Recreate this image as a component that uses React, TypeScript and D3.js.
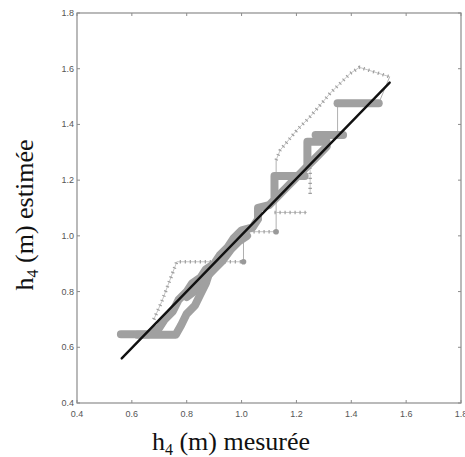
import React from "react";
import * as d3 from "d3";

const W = 465;
const H = 457;

const xTicks = [0.4, 0.6, 0.8, 1.0, 1.2, 1.4, 1.6, 1.8];
const yTicks = [0.4, 0.6, 0.8, 1.0, 1.2, 1.4, 1.6, 1.8];

// thick gray bands of densely packed circle markers (estimated)
const bandMain: [number, number][] = [
  [0.56, 0.647], [0.66, 0.647], [0.7, 0.67], [0.72, 0.7], [0.75, 0.73], [0.77, 0.77],
  [0.8, 0.8], [0.82, 0.83], [0.85, 0.85], [0.87, 0.88], [0.9, 0.9], [0.92, 0.93],
  [0.95, 0.96], [0.97, 0.99], [1.0, 1.02], [1.04, 1.03], [1.06, 1.06], [1.06, 1.1],
  [1.1, 1.11], [1.13, 1.14], [1.16, 1.17], [1.19, 1.2], [1.22, 1.23], [1.25, 1.26],
  [1.28, 1.29], [1.31, 1.32],
];
const bandLower: [number, number][] = [
  [0.8, 0.78], [0.84, 0.81], [0.87, 0.85], [0.9, 0.88], [0.93, 0.91], [0.96, 0.95],
  [0.99, 0.98], [1.02, 1.0],
];
const bandLoop: [number, number][] = [
  [0.62, 0.645], [0.76, 0.645], [0.78, 0.68], [0.8, 0.72], [0.83, 0.75], [0.85, 0.79],
  [0.87, 0.83], [0.88, 0.86],
];
const bandStep1: [number, number][] = [[1.12, 1.14], [1.12, 1.215], [1.23, 1.215]];
const bandStep2: [number, number][] = [[1.24, 1.26], [1.24, 1.338], [1.31, 1.338]];
const bandStep3: [number, number][] = [[1.27, 1.362], [1.37, 1.362]];
const bandStep4: [number, number][] = [[1.35, 1.476], [1.5, 1.476]];

// thin connector lines
const thin1: [number, number][] = [[1.007, 0.907], [1.007, 1.015]];
const thin2: [number, number][] = [[1.126, 1.015], [1.126, 1.272]];
const thin3: [number, number][] = [[1.35, 1.362], [1.35, 1.476]];
const thin4: [number, number][] = [[1.5, 1.476], [1.54, 1.571]];

// dotted "+" series
const plusA: [number, number][] = [
  [0.68, 0.7], [0.709, 0.764], [0.764, 0.907], [1.007, 0.907],
];
const plusB: [number, number][] = [[1.007, 1.015], [1.126, 1.015]];
const plusC: [number, number][] = [
  [1.126, 1.272], [1.141, 1.308], [1.202, 1.38], [1.25, 1.428], [1.287, 1.47],
  [1.323, 1.512], [1.36, 1.548], [1.396, 1.583], [1.43, 1.605], [1.54, 1.571],
];
const plusD: [number, number][] = [[1.12, 1.084], [1.238, 1.084]];
const plusE: [number, number][] = [[1.25, 1.15], [1.25, 1.236], [1.24, 1.3]];

const endDots: [number, number][] = [[1.007, 0.907], [1.126, 1.015]];

// fitted line
const fitLine: [number, number][] = [[0.563, 0.56], [1.54, 1.55]];

export default function App() {
  const x = d3.scaleLinear().domain([0.4, 1.8]).range([77, 461]);
  const y = d3.scaleLinear().domain([0.4, 1.8]).range([403, 13]);
  const line = d3
    .line<[number, number]>()
    .x((d) => x(d[0]))
    .y((d) => y(d[1]));

  const bands = [bandMain, bandLower, bandLoop, bandStep1, bandStep2, bandStep3, bandStep4];
  const thins = [thin1, thin2, thin3, thin4];
  const pluses = [plusA, plusB, plusC, plusD, plusE];

  const tickColor = "#8c8c8c";
  const labelColor = "#555";

  return (
    <svg
      width={W}
      height={H}
      style={{ position: "absolute", left: 0, top: 0, background: "#fff" }}
    >
      {/* frame */}
      <rect x={77} y={13} width={461 - 77} height={403 - 13} fill="none" stroke={tickColor} strokeWidth={1.2} />
      {xTicks.map((t) => (
        <g key={"xt" + t}>
          <line x1={x(t)} x2={x(t)} y1={403} y2={400} stroke={tickColor} />
          <line x1={x(t)} x2={x(t)} y1={13} y2={16} stroke={tickColor} />
          <text
            x={x(t)}
            y={417}
            textAnchor="middle"
            fontFamily="Liberation Sans, Arial, sans-serif"
            fontSize={9}
            fill={labelColor}
          >
            {t.toFixed(1)}
          </text>
        </g>
      ))}
      {yTicks.map((t) => (
        <g key={"yt" + t}>
          <line x1={77} x2={80} y1={y(t)} y2={y(t)} stroke={tickColor} />
          <line x1={461} x2={458} y1={y(t)} y2={y(t)} stroke={tickColor} />
          <text
            x={74}
            y={y(t) + 3}
            textAnchor="end"
            fontFamily="Liberation Sans, Arial, sans-serif"
            fontSize={9}
            fill={labelColor}
          >
            {t.toFixed(1)}
          </text>
        </g>
      ))}

      {/* thin connectors */}
      {thins.map((s, i) => (
        <path key={"th" + i} d={line(s) || ""} fill="none" stroke="#b0b0b0" strokeWidth={1} />
      ))}
      {/* plus series */}
      {pluses.map((s, i) => (
        <g key={"pl" + i}>
          <path d={line(s) || ""} fill="none" stroke="#bdbdbd" strokeWidth={0.9} />
          <path
            d={line(s) || ""}
            fill="none"
            stroke="#9e9e9e"
            strokeWidth={3.5}
            strokeDasharray="1.2 3.8"
          />
        </g>
      ))}
      {/* bands */}
      {bands.map((s, i) => (
        <path
          key={"b" + i}
          d={line(s) || ""}
          fill="none"
          stroke="#a0a0a0"
          strokeWidth={8}
          strokeLinecap="round"
          strokeLinejoin="round"
        />
      ))}
      {endDots.map((p, i) => (
        <circle key={"ed" + i} cx={x(p[0])} cy={y(p[1])} r={2.8} fill="#999" />
      ))}
      {/* fitted line */}
      <path d={line(fitLine) || ""} fill="none" stroke="#111" strokeWidth={2.4} strokeLinecap="round" />

      {/* axis titles */}
      <text
        x={231}
        y={450}
        textAnchor="middle"
        fontFamily="Liberation Serif, Times New Roman, serif"
        fontSize={26}
        fill="#111"
      >
        h<tspan fontSize={16} dy={5}>4</tspan>
        <tspan dy={-5}> (m) mesurée</tspan>
      </text>
      <text
        transform={`translate(33,215) rotate(-90)`}
        textAnchor="middle"
        fontFamily="Liberation Serif, Times New Roman, serif"
        fontSize={26}
        fill="#111"
      >
        h<tspan fontSize={16} dy={5}>4</tspan>
        <tspan dy={-5}> (m) estimée</tspan>
      </text>
    </svg>
  );
}
